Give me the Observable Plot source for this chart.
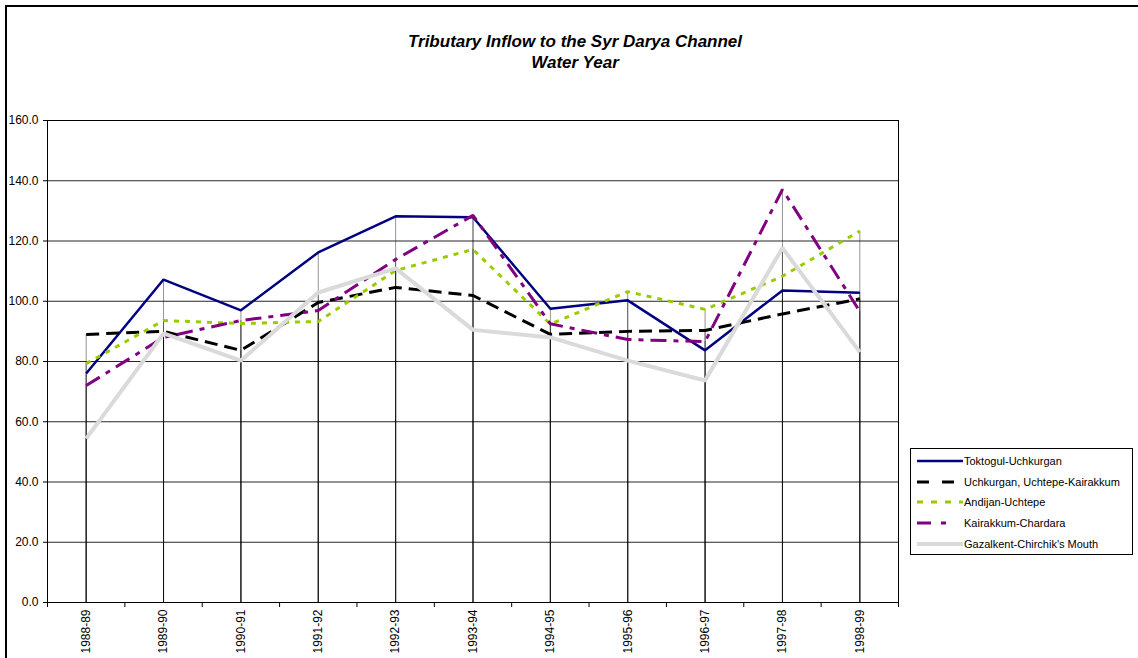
<!DOCTYPE html>
<html>
<head>
<meta charset="utf-8">
<script src="https://cdn.jsdelivr.net/npm/d3@7"></script>
<script src="https://cdn.jsdelivr.net/npm/@observablehq/plot@0.6"></script>
<style>
  html, body { margin: 0; padding: 0; background: #fff; overflow: hidden; }
  #wrap { position: relative; width: 1138px; height: 658px; font-family: Arial, "Liberation Sans", sans-serif; }
  #frame { position: absolute; left: 5px; top: 5px; width: 1150px; height: 670px; border: 2px solid #000; box-sizing: border-box; }
  #title { position: absolute; left: 0; top: 31px; width: 1150px; text-align: center; font-weight: bold; font-style: italic; font-size: 17px; line-height: 21px; color: #000; }
  #chart { position: absolute; left: 0; top: 0; }
  #legend { position: absolute; left: 910px; top: 448px; width: 223px; height: 107px; border: 1px solid #000; box-sizing: border-box; background: #fff; font-size: 11px; }
  .item { position: absolute; left: 6px; height: 14px; display: flex; align-items: center; white-space: nowrap; }
  .item svg { display: block; }
</style>
</head>
<body>
<div id="wrap">
  <div id="frame"></div>
  <div id="title">Tributary Inflow to the Syr Darya Channel<br>Water Year</div>
  <div id="chart"></div>
  <div id="legend"></div>
</div>
<script>
const years = ["1988-89","1989-90","1990-91","1991-92","1992-93","1993-94","1994-95","1995-96","1996-97","1997-98","1998-99"];
const seriesNames = ["Toktogul-Uchkurgan","Uchkurgan, Uchtepe-Kairakkum","Andijan-Uchtepe","Kairakkum-Chardara","Gazalkent-Chirchik's Mouth"];
const toktogul  = [76.0, 107.2, 97.0, 116.2, 128.2, 127.9, 97.5, 100.3, 83.7, 103.6, 102.8];
const uchkurgan = [89.0, 90.0, 83.7, 99.6, 104.6, 101.9, 89.0, 90.0, 90.3, 95.8, 100.8];
const andijan   = [79.3, 93.6, 92.6, 93.3, 110.2, 117.2, 92.4, 103.2, 97.3, 108.3, 123.3];
const kairakkum = [72.0, 88.0, 93.6, 96.9, 113.9, 128.5, 92.5, 87.3, 86.6, 137.1, 96.6];
const gazalkent = [54.4, 89.3, 80.3, 102.9, 110.9, 90.5, 88.0, 80.3, 73.7, 117.7, 83.1];
const yTicks = [0, 20, 40, 60, 80, 100, 120, 140, 160];

const seriesValues = [toktogul, uchkurgan, andijan, kairakkum, gazalkent];
const styles = [
  {stroke: "#000080", width: 2.5, dash: null},
  {stroke: "#000000", width: 3, dash: "13,7"},
  {stroke: "#99CC00", width: 3, dash: "5,6"},
  {stroke: "#800080", width: 3, dash: "16,7,5,7"},
  {stroke: "#DADADA", width: 4, dash: null}
];

const rows = [];
seriesNames.forEach((name, s) => {
  seriesValues[s].forEach((v, i) => rows.push({series: name, s, i, year: years[i], value: v}));
});

const idx = years.map((_, i) => i);
const halfTicks = d3.range(-0.5, years.length, 1);

const marks = [
  Plot.gridY(yTicks, {stroke: "#000", strokeOpacity: 0.85, strokeWidth: 1}),
  Plot.ruleX(rows, {x: "i", y1: 0, y2: "value", stroke: "#000", strokeOpacity: 0.42, strokeWidth: 1}),
  Plot.frame({stroke: "#000", strokeWidth: 1}),
  Plot.axisY(yTicks, {tickSize: 4, tickPadding: 5, tickFormat: d3.format(".1f"), fontSize: 12, label: null}),
  Plot.axisX(halfTicks, {tickSize: 5, tickFormat: () => "", label: null}),
  Plot.axisX(idx, {tickSize: 0, tickPadding: 7, tickRotate: -90, tickFormat: i => years[i], fontSize: 12, label: null})
];
seriesNames.forEach((name, s) => {
  const st = styles[s];
  marks.push(Plot.line(rows.filter(d => d.s === s), {
    x: "i", y: "value", stroke: st.stroke, strokeWidth: st.width,
    strokeDasharray: st.dash || undefined, strokeLinejoin: "miter", strokeLinecap: "butt"
  }));
});

const chart = Plot.plot({
  width: 1138,
  height: 658,
  marginLeft: 47,
  marginRight: 240,
  marginTop: 120,
  marginBottom: 56,
  style: {fontFamily: "Arial, 'Liberation Sans', sans-serif", fontSize: "12px", color: "#000", background: "transparent"},
  x: {domain: [-0.5, years.length - 0.5], axis: null},
  y: {domain: [0, 160], axis: null},
  marks
});
document.getElementById("chart").appendChild(chart);

// legend
const legend = document.getElementById("legend");
const tops = [5, 26, 46, 67, 88];
seriesNames.forEach((name, s) => {
  const st = styles[s];
  const item = document.createElement("div");
  item.className = "item";
  item.style.top = tops[s] + "px";
  const legendDash = [null, "12,13", "6,8", "14,10,5,20", null][s];
  item.innerHTML = `<svg width="47" height="8"><line x1="0" y1="4" x2="46" y2="4" stroke="${st.stroke}" stroke-width="${st.width}" ${legendDash ? `stroke-dasharray="${legendDash}"` : ""}/></svg><span>${name}</span>`;
  legend.appendChild(item);
});
</script>
</body>
</html>
